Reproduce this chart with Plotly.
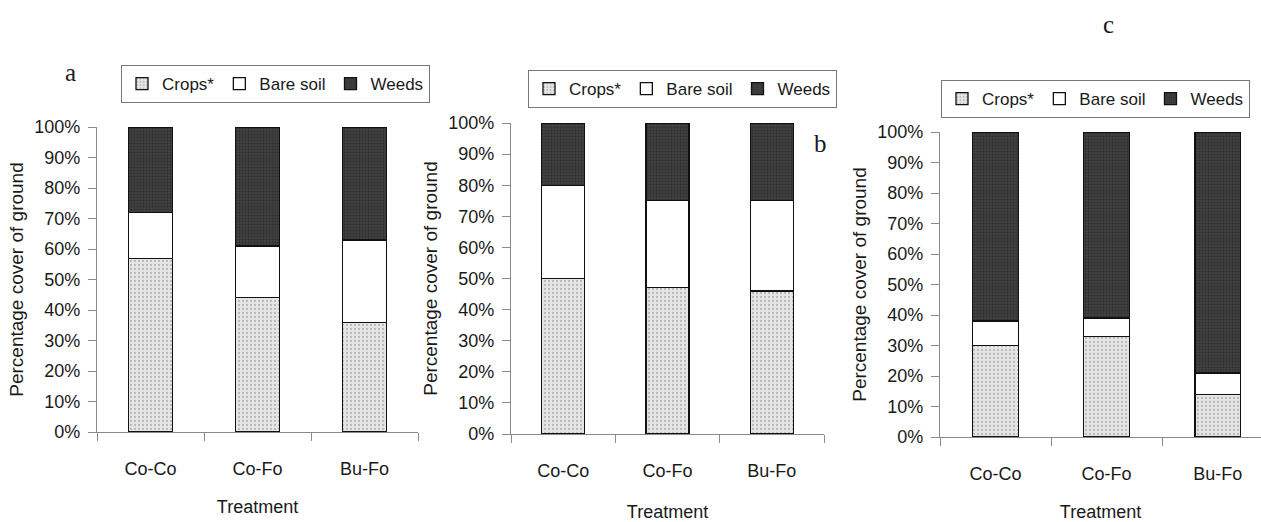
import plotly.graph_objects as go
from plotly.subplots import make_subplots

treatments = ["Co-Co", "Co-Fo", "Bu-Fo"]
series = ["Crops*", "Bare soil", "Weeds"]

# percentage cover per panel (crops, bare soil, weeds)
crops_a = [57, 44, 36]
bare_a = [15, 17, 27]
weeds_a = [28, 39, 37]

crops_b = [50, 47, 46]
bare_b = [30, 28, 29]
weeds_b = [20, 25, 25]

crops_c = [30, 33, 14]
bare_c = [8, 6, 7]
weeds_c = [62, 61, 79]

y_ticks = list(range(0, 101, 10))
y_tick_text = [f"{v}%" for v in y_ticks]
panel_letters = ["a", "b", "c"]

FONT = "Liberation Sans, Arial, sans-serif"
SERIF = "Liberation Serif, Times New Roman, serif"
INK = "#1a1a1a"
W, H = 1261, 522


def px(v, total):
    return v / total


styles = {
    "Crops*": dict(color="#dcdcdc",
                   pattern=dict(shape=".", bgcolor="#e6e6e6", fgcolor="#8a8a8a",
                                size=4, solidity=0.25)),
    "Bare soil": dict(color="white"),
    "Weeds": dict(color="#363636",
                  pattern=dict(shape=".", bgcolor="#404040", fgcolor="#1e1e1e",
                               size=3, solidity=0.4)),
}

panels = [
    (crops_a, bare_a, weeds_a),
    (crops_b, bare_b, weeds_b),
    (crops_c, bare_c, weeds_c),
]

fig = make_subplots(rows=1, cols=3)

legend_names = ["legend", "legend2", "legend3"]
for i, vals in enumerate(panels):
    for name, v in zip(series, vals):
        st = styles[name]
        marker = dict(color=st["color"], line=dict(color="#111111", width=1.3))
        if "pattern" in st:
            marker["pattern"] = st["pattern"]
        fig.add_trace(
            go.Bar(x=treatments, y=v, name=name, marker=marker, width=0.41,
                   legend=legend_names[i]),
            row=1, col=i + 1,
        )

# pixel geometry of each panel: x0, x1, ytop, ybottom
geo = [(97, 418, 127, 432), (511, 824, 123, 434), (940, 1261, 132, 437)]
x_ranges = [[-0.5, 2.5], [-0.5, 2.5], [-0.5, 2.39]]
x_title_standoff = [22, 26, 22]

for i, (x0, x1, yt, yb) in enumerate(geo):
    n = "" if i == 0 else str(i + 1)
    fig.layout["xaxis" + n].update(
        domain=[px(x0, W), px(x1, W)],
        range=x_ranges[i], automargin=False,
        showline=True, linecolor="#8a8a8a", linewidth=1.2,
        ticks="outside", ticklen=8, tickcolor="#8a8a8a", tickson="boundaries",
        ticklabelstandoff=20,
        tickfont=dict(family=FONT, size=18, color=INK),
        title=dict(text="Treatment", standoff=x_title_standoff[i],
                   font=dict(family=FONT, size=18, color=INK)),
        showgrid=False, zeroline=False,
    )
    fig.layout["yaxis" + n].update(
        domain=[1 - yb / H, 1 - yt / H],
        range=[0, 100], automargin=False,
        tickmode="array", tickvals=y_ticks, ticktext=y_tick_text,
        showline=True, linecolor="#8a8a8a", linewidth=1.2,
        ticks="outside", ticklen=8, tickcolor="#8a8a8a",
        ticklabelstandoff=4,
        tickfont=dict(family=FONT, size=18, color=INK),
        title=dict(text="Percentage cover of ground", standoff=5,
                   font=dict(family=FONT, size=19, color=INK)),
        showgrid=False, zeroline=False,
    )

legend_pos = [(121, 65, "left"), (528, 70, "left"), (1250, 80, "right")]
for name, (lx, ly, anchor) in zip(legend_names, legend_pos):
    fig.layout[name] = dict(
        x=px(lx, W), y=1 - ly / H, xanchor=anchor, yanchor="top",
        orientation="h", traceorder="normal",
        bordercolor="#777777", borderwidth=1,
        bgcolor="white", font=dict(family=FONT, size=17, color=INK),
        itemwidth=30,
    )

letter_pos = [(70, 72), (820, 143), (1108, 25)]
for letter, (lx, ly) in zip(panel_letters, letter_pos):
    fig.add_annotation(text=letter, x=px(lx, W), y=1 - ly / H, xref="paper",
                       yref="paper", xanchor="center", yanchor="middle",
                       showarrow=False,
                       font=dict(family=SERIF, size=25, color=INK))

fig.update_layout(
    width=W, height=H, margin=dict(l=0, r=0, t=0, b=0, autoexpand=False),
    barmode="stack", plot_bgcolor="white", paper_bgcolor="white",
)

fig.write_html(
    "out.html",
    config={"displayModeBar": False},
    post_script="document.body.style.margin='0';document.body.style.overflow='hidden';",
)
